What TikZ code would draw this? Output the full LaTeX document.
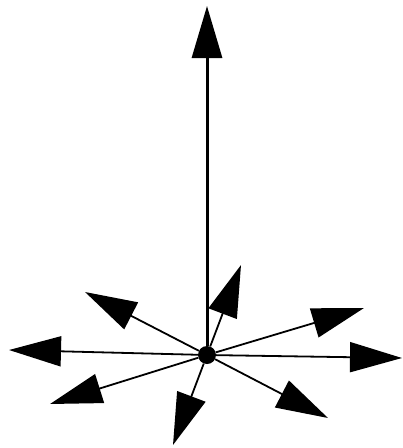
\documentclass[tikz,border=0pt]{standalone}
\usepackage{tikz}
\usetikzlibrary{arrows.meta}

\begin{document}
\begin{tikzpicture}[x=1pt,y=-1pt,
    vec/.style={line width=1.8pt,-{Triangle[length=52pt,width=30pt]}},
    hub/.style={circle,fill=black,inner sep=0pt,minimum size=18pt}]
  \useasboundingbox (0,0) rectangle (403,448);
  \node[hub] (o) at (207,355) {};
  \foreach \n/\x/\y in {up/207/6,upright/241/265,upleft/85/292,rightup/364/308,
                        left/9/350,right/402/358,leftdown/50/404,down/173/445,rightdown/328/418}
    \coordinate (\n) at (\x,\y);
  \draw[vec,line width=3pt] (o) -- (up);
  \foreach \n in {upright,upleft,rightup,left,right,leftdown,down,rightdown}
    \draw[vec] (o) -- (\n);
\end{tikzpicture}
\end{document}
